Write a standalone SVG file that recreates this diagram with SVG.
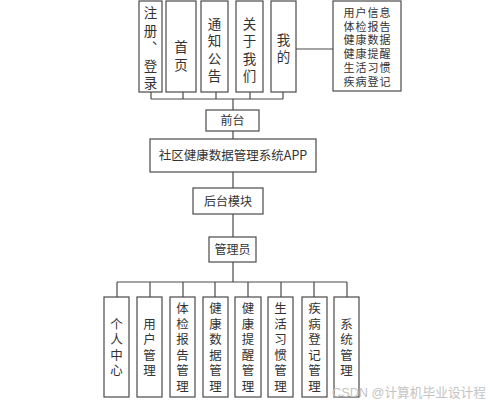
<svg xmlns="http://www.w3.org/2000/svg" width="499" height="405" viewBox="0 0 499 405">
<style>
.box{fill:#fff;stroke:#4a4a4a;stroke-width:1.2}
.ln{fill:none;stroke:#4a4a4a;stroke-width:1.2}
text{font-family:"Noto Sans CJK SC","Liberation Sans",sans-serif;fill:#333;text-anchor:middle}
.vt{writing-mode:vertical-rl;font-size:13.5px;letter-spacing:4px}
.vb{writing-mode:vertical-rl;font-size:12.5px;letter-spacing:3px}
.t13{font-size:12.5px}
.t12{font-size:12px}
.t11{font-family:"Liberation Sans","Noto Sans CJK SC",sans-serif;font-size:11px;letter-spacing:1px}
.wm{font-family:"Liberation Sans","Noto Sans CJK SC",sans-serif;font-size:13px;fill:#c4c4c4;text-anchor:start}
</style>
<rect width="499" height="405" fill="#fff"/>
<g id="connectors">
<path class="ln" d="M151 92V99M183 92V99M216 92V99M250 92V99M283 92V99M151 99H283M233 99V110"/>
<path class="ln" d="M296 49H333"/>
<path class="ln" d="M233 131V139M233 172V188M233 214V237M233 262V282"/>
<path class="ln" d="M117 282H347M117 282V297M150 282V297M183 282V297M215 282V297M248 282V297M281 282V297M314 282V297M347 282V297"/>
</g>
<g id="n-register"><rect class="box" x="139" y="1" width="23" height="91"/>
<text class="vt" x="150.5" y="50">注册、登录</text></g>
<g id="n-home"><rect class="box" x="166" y="1" width="30" height="91"/>
<text class="vt" x="181" y="58">首页</text></g>
<g id="n-notice"><rect class="box" x="201" y="1" width="27" height="91"/>
<text class="vt" x="214.5" y="52">通知公告</text></g>
<g id="n-about"><rect class="box" x="236" y="1" width="27" height="91"/>
<text class="vt" x="249.5" y="52">关于我们</text></g>
<g id="n-mine"><rect class="box" x="271" y="1" width="25" height="91"/>
<text class="vt" x="283.5" y="50.5">我的</text></g>
<g id="n-mine-list"><rect class="box" x="333" y="1" width="68" height="90"/>
<text class="t11"><tspan x="367.5" y="16.5">用户信息</tspan><tspan x="367.5" y="30.5">体检报告</tspan><tspan x="367.5" y="44">健康数据</tspan><tspan x="367.5" y="58">健康提醒</tspan><tspan x="367.5" y="72">生活习惯</tspan><tspan x="367.5" y="86">疾病登记</tspan></text></g>
<g id="n-front"><rect class="box" x="206" y="110" width="53" height="21"/>
<text class="t12" x="232.5" y="125">前台</text></g>
<g id="n-app"><rect class="box" x="150" y="139" width="166" height="33"/>
<text class="t13" x="233" y="160">社区健康数据管理系统APP</text></g>
<g id="n-back"><rect class="box" x="193" y="188" width="70" height="26"/>
<text class="t12" x="228" y="205.5">后台模块</text></g>
<g id="n-admin"><rect class="box" x="209" y="237" width="47" height="25"/>
<text class="t12" x="232.5" y="254">管理员</text></g>
<g id="n-personal"><rect class="box" x="104" y="297" width="25" height="100"/>
<text class="vb" x="116.5" y="348.5">个人中心</text></g>
<g id="n-user"><rect class="box" x="137" y="297" width="25" height="100"/>
<text class="vb" x="149.5" y="348.5">用户管理</text></g>
<g id="n-report"><rect class="box" x="170" y="297" width="25" height="100"/>
<text class="vb" x="182.5" y="348.5">体检报告管理</text></g>
<g id="n-data"><rect class="box" x="203" y="297" width="25" height="100"/>
<text class="vb" x="215.5" y="348.5">健康数据管理</text></g>
<g id="n-remind"><rect class="box" x="235" y="297" width="26" height="100"/>
<text class="vb" x="248" y="348.5">健康提醒管理</text></g>
<g id="n-habit"><rect class="box" x="268" y="297" width="25" height="100"/>
<text class="vb" x="280.5" y="348.5">生活习惯管理</text></g>
<g id="n-disease"><rect class="box" x="302" y="297" width="25" height="100"/>
<text class="vb" x="314.5" y="348.5">疾病登记管理</text></g>
<g id="n-system"><rect class="box" x="334" y="297" width="25" height="100"/>
<text class="vb" x="346.5" y="348.5">系统管理</text></g>
<text class="wm" x="332" y="397" textLength="154" lengthAdjust="spacingAndGlyphs">CSDN @计算机毕业设计程</text>
</svg>
